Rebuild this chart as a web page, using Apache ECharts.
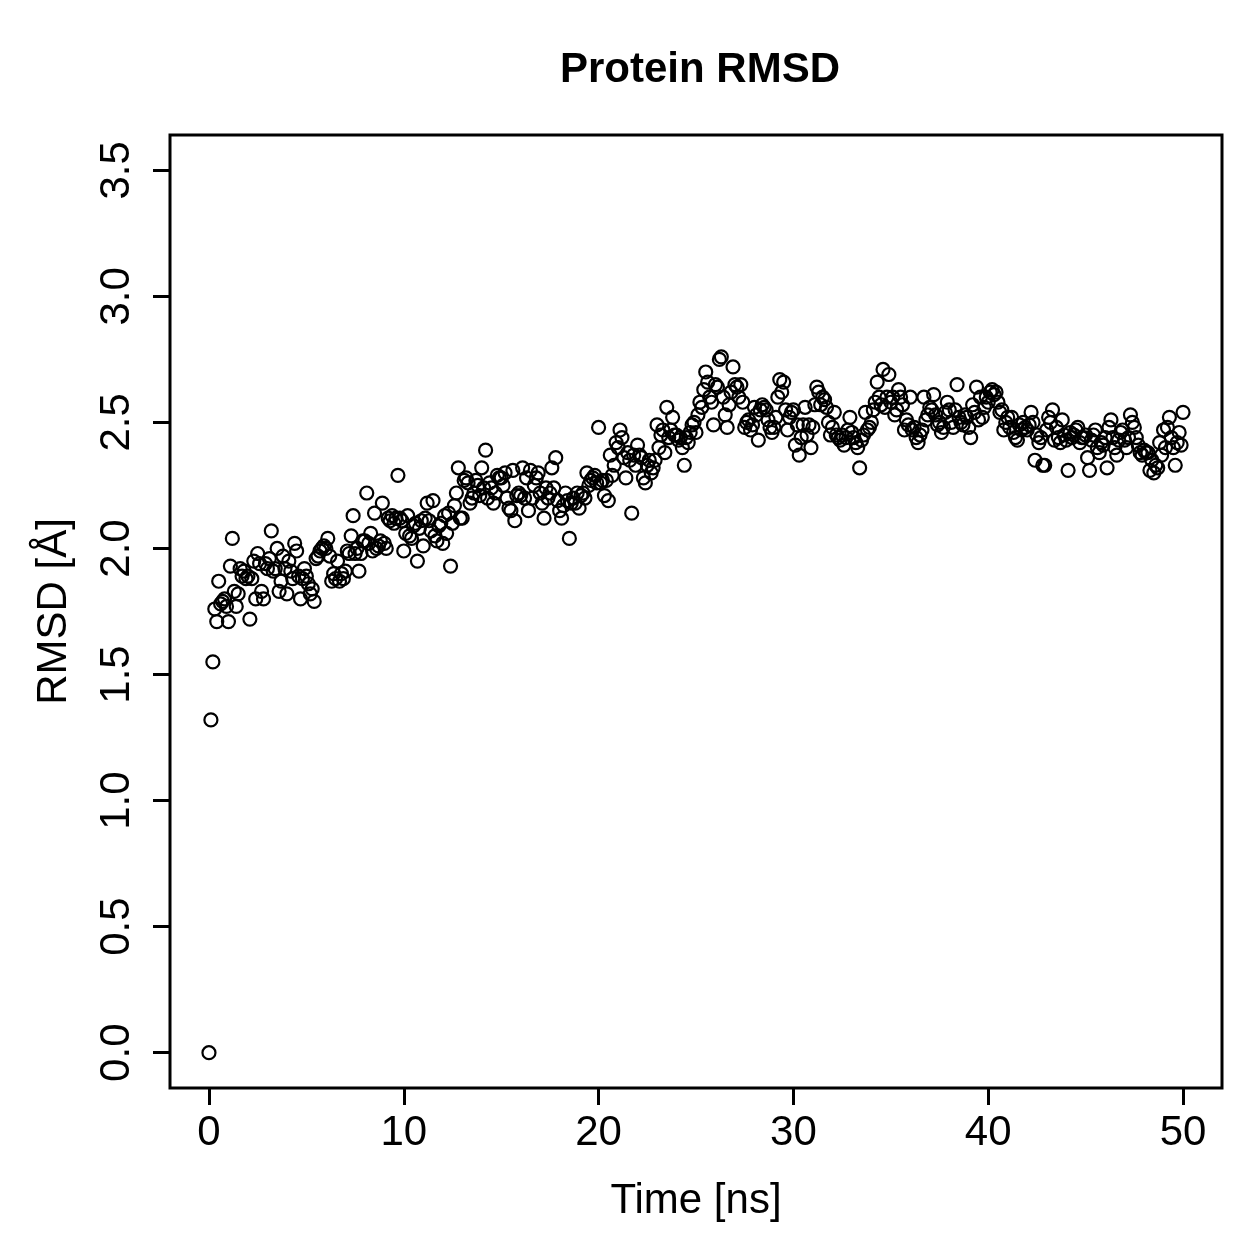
<!DOCTYPE html>
<html>
<head>
<meta charset="utf-8">
<script src="https://cdn.jsdelivr.net/npm/echarts@6/dist/echarts.min.js"></script>
<style>html,body{margin:0;padding:0;background:#fff}#c{width:1259px;height:1259px}</style>
</head>
<body>
<div id="c"></div>
<script>
// Time step between frames (ns)
const timeStep = 0.1;
// RMSD values (Å), one row per ns (10 frames each), plus final frame at 50 ns
const rmsd = [
0.00,1.32,1.55,1.76,1.71,1.87,1.78,1.79,1.80,1.77,
1.71,1.93,2.04,1.83,1.77,1.82,1.92,1.89,1.91,1.88,
1.89,1.72,1.88,1.95,1.80,1.98,1.94,1.83,1.80,1.94,
1.92,1.96,2.07,1.91,1.92,2.00,1.83,1.87,1.97,1.92,
1.82,1.95,1.91,1.88,2.02,1.99,1.89,1.80,1.88,1.92,
1.89,1.86,1.82,1.84,1.79,1.96,1.97,1.99,2.00,2.01,
2.00,2.04,1.97,1.87,1.90,1.88,1.95,1.87,1.90,1.88,
1.91,1.99,1.98,2.05,2.13,1.98,2.00,1.91,1.98,2.03,
2.03,2.22,2.02,2.06,1.99,2.14,2.00,2.01,2.03,2.18,
2.02,2.00,2.12,2.11,2.13,2.10,2.12,2.29,2.12,2.11,
1.99,2.06,2.13,2.05,2.04,2.09,2.10,1.95,2.08,2.11,
2.01,2.12,2.18,2.11,2.07,2.19,2.05,2.03,2.09,2.10,
2.02,2.13,2.06,2.14,1.93,2.10,2.17,2.22,2.32,2.12,
2.12,2.27,2.28,2.26,2.18,2.20,2.22,2.27,2.25,2.21,
2.32,2.24,2.39,2.20,2.26,2.24,2.18,2.22,2.29,2.28,
2.28,2.25,2.30,2.20,2.16,2.15,2.31,2.11,2.21,2.22,
2.21,2.32,2.20,2.28,2.15,2.31,2.20,2.25,2.28,2.30,
2.22,2.18,2.12,2.24,2.20,2.22,2.32,2.24,2.36,2.19,
2.15,2.12,2.17,2.22,2.19,2.04,2.18,2.20,2.18,2.22,
2.16,2.21,2.22,2.20,2.30,2.25,2.27,2.28,2.29,2.26,
2.48,2.26,2.27,2.21,2.27,2.19,2.37,2.29,2.33,2.42,
2.40,2.47,2.44,2.36,2.28,2.38,2.35,2.14,2.37,2.33,
2.41,2.37,2.36,2.28,2.26,2.33,2.35,2.30,2.32,2.35,
2.49,2.40,2.45,2.47,2.38,2.56,2.44,2.47,2.52,2.45,
2.45,2.43,2.44,2.40,2.33,2.44,2.42,2.46,2.49,2.50,
2.46,2.53,2.58,2.56,2.63,2.70,2.66,2.60,2.58,2.49,
2.65,2.64,2.75,2.76,2.60,2.53,2.48,2.57,2.62,2.72,
2.65,2.64,2.60,2.65,2.58,2.48,2.50,2.51,2.47,2.49,
2.56,2.53,2.43,2.55,2.57,2.56,2.55,2.51,2.48,2.46,
2.48,2.52,2.60,2.67,2.62,2.66,2.55,2.47,2.52,2.54,
2.55,2.41,2.49,2.37,2.44,2.49,2.56,2.45,2.49,2.40,
2.48,2.57,2.64,2.62,2.57,2.60,2.59,2.56,2.50,2.45,
2.48,2.54,2.45,2.44,2.43,2.45,2.41,2.44,2.47,2.52,
2.46,2.44,2.42,2.40,2.32,2.43,2.45,2.54,2.47,2.48,
2.50,2.55,2.58,2.66,2.60,2.57,2.71,2.56,2.60,2.69,
2.58,2.60,2.53,2.55,2.63,2.60,2.57,2.47,2.51,2.49,
2.60,2.47,2.48,2.44,2.42,2.45,2.47,2.60,2.51,2.53,
2.56,2.55,2.61,2.53,2.49,2.50,2.46,2.48,2.54,2.58,
2.55,2.50,2.48,2.55,2.65,2.52,2.50,2.49,2.53,2.52,
2.48,2.44,2.57,2.54,2.64,2.51,2.60,2.52,2.56,2.60,
2.58,2.62,2.63,2.61,2.62,2.58,2.54,2.55,2.47,2.50,
2.52,2.48,2.52,2.46,2.44,2.43,2.49,2.47,2.50,2.48,
2.47,2.49,2.54,2.50,2.35,2.45,2.42,2.44,2.33,2.33,
2.47,2.52,2.50,2.55,2.43,2.48,2.44,2.42,2.51,2.45,
2.43,2.31,2.46,2.44,2.45,2.47,2.48,2.42,2.44,2.44,
2.45,2.36,2.31,2.43,2.45,2.47,2.40,2.38,2.42,2.41,
2.44,2.32,2.48,2.51,2.44,2.40,2.37,2.43,2.46,2.47,
2.43,2.40,2.44,2.53,2.50,2.48,2.44,2.41,2.38,2.37,
2.39,2.38,2.38,2.31,2.35,2.30,2.33,2.32,2.42,2.37,
2.47,2.40,2.48,2.52,2.44,2.40,2.33,2.42,2.46,2.41,
2.54
];
const xTicks = [0, 10, 20, 30, 40, 50];
const yTicks = [0, 0.5, 1.0, 1.5, 2.0, 2.5, 3.0, 3.5];

const points = rmsd.map((v, i) => [Math.round(i * timeStep * 10) / 10, v]);
const FONT = '"Liberation Sans", Arial, Helvetica, sans-serif';

const chart = echarts.init(document.getElementById('c'), null, {renderer: 'canvas'});
chart.setOption({
  animation: false,
  backgroundColor: '#fff',
  title: {
    text: 'Protein RMSD',
    left: 695, top: 44, textAlign: 'center',
    textStyle: {fontFamily: FONT, fontSize: 42, fontWeight: 'bold', color: '#000'}
  },
  grid: {
    left: 170, right: 37, top: 135, bottom: 171,
    show: true, borderColor: '#000', borderWidth: 3, backgroundColor: 'transparent'
  },
  xAxis: {
    type: 'value', min: -2, max: 52,
    name: 'Time [ns]', nameLocation: 'middle', nameGap: 92,
    nameTextStyle: {fontFamily: FONT, fontSize: 42, color: '#000'},
    axisLine: {show: false, onZero: false},
    splitLine: {show: false},
    axisTick: {show: true, inside: false, length: 17, customValues: xTicks, lineStyle: {color: '#000', width: 3}},
    axisLabel: {customValues: xTicks, margin: 24, fontFamily: FONT, fontSize: 42, color: '#000'}
  },
  yAxis: {
    type: 'value', min: -0.14, max: 3.64,
    name: 'RMSD [Å]', nameLocation: 'middle', nameGap: 95,
    nameTextStyle: {fontFamily: FONT, fontSize: 42, color: '#000'},
    axisLine: {show: false, onZero: false},
    splitLine: {show: false},
    axisTick: {show: true, inside: false, length: 17, customValues: yTicks, lineStyle: {color: '#000', width: 3}},
    axisLabel: {customValues: yTicks, rotate: 90, margin: 32, fontFamily: FONT, fontSize: 42, color: '#000',
      formatter: v => v.toFixed(1)}
  },
  series: [{
    type: 'scatter',
    data: points,
    symbol: 'circle',
    symbolSize: 13,
    itemStyle: {color: 'rgba(0,0,0,0)', borderColor: '#000', borderWidth: 2.2, opacity: 1},
    emphasis: {disabled: true}
  }]
});
</script>
</body>
</html>
